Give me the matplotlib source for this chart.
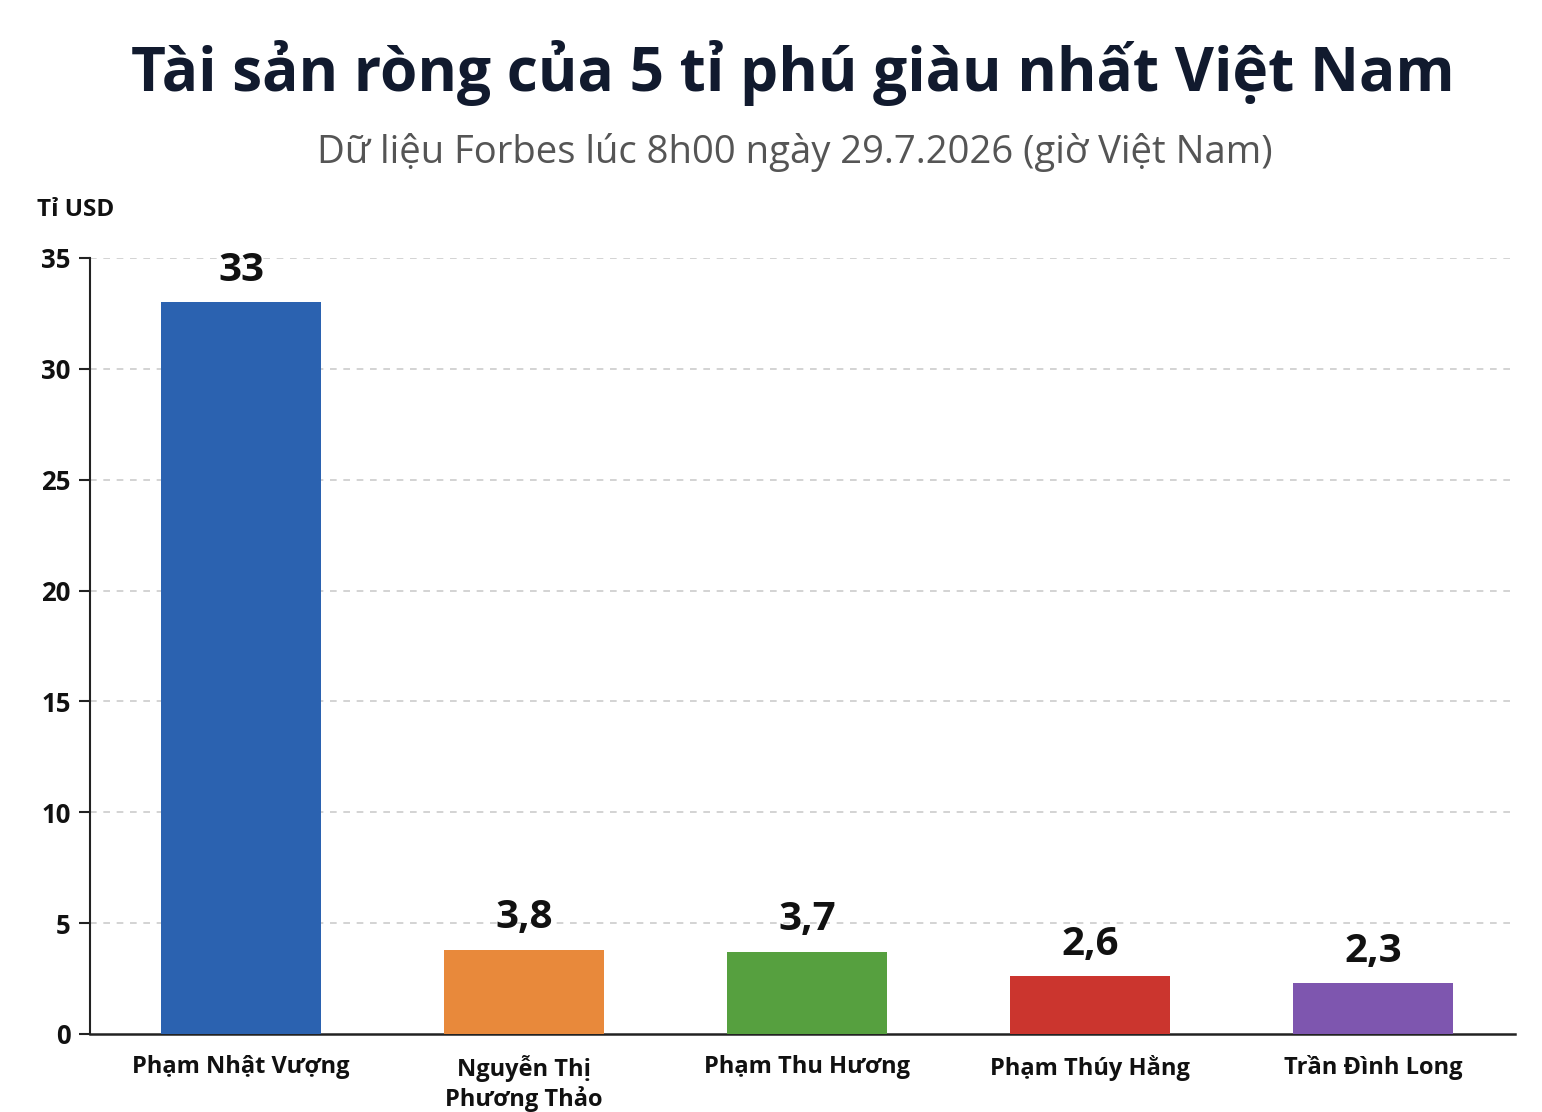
import matplotlib
matplotlib.use("Agg")
from matplotlib import pyplot as plt

# dữ liệu
names = ["Phạm Nhật Vượng", "Nguyễn Thị\nPhương Thảo", "Phạm Thu Hương",
         "Phạm Thúy Hằng", "Trần Đình Long"]
values = [33, 3.8, 3.7, 2.6, 2.3]
value_labels = ["33", "3,8", "3,7", "2,6", "2,3"]
colors = ["#2B62B0", "#E8893B", "#56A03F", "#CB352E", "#7E56AF"]
yticks = [0, 5, 10, 15, 20, 25, 30, 35]

plt.rcParams["font.family"] = ["Open Sans", "DejaVu Sans"]

fig = plt.figure(figsize=(15.42, 11.12), dpi=100)
ax = fig.add_axes([90 / 1542, 1 - 1034 / 1112, 1425 / 1542, 776 / 1112])

x = list(range(len(names)))
ax.bar(x, values, width=0.565, color=colors, zorder=3)

# nhãn giá trị trên cột
for xi, v, lab in zip(x, values, value_labels):
    ax.annotate(lab, (xi, v), xytext=(0, 9), textcoords="offset points",
                ha="center", va="bottom", fontsize=29, fontweight="bold",
                color="#111111")

ax.set_xlim(-0.534, 4.5)
ax.set_ylim(0, 35)
ax.set_yticks(yticks)
ax.set_yticklabels([str(t) for t in yticks], fontsize=18.5, fontweight="bold",
                   color="#111111")
ax.set_xticks(x)
ax.set_xticklabels(names, fontsize=17, fontweight="bold", color="#111111",
                   linespacing=1.2)
ax.tick_params(axis="x", length=0, pad=15)
ax.tick_params(axis="y", length=8, width=1.5, pad=6, color="#222222")

for t in yticks[1:]:
    ax.axhline(t, color="#cccccc", linestyle=(0, (4, 4)), linewidth=1.2,
               zorder=1)

for s in ["top", "right"]:
    ax.spines[s].set_visible(False)
ax.spines["left"].set_linewidth(1.5)
ax.spines["bottom"].set_linewidth(1.8)
ax.spines["left"].set_color("#222222")
ax.spines["bottom"].set_color("#222222")

fig.text(793 / 1542, 1 - 73 / 1112, "Tài sản ròng của 5 tỉ phú giàu nhất Việt Nam",
         ha="center", va="center", fontsize=43.5, fontweight="bold",
         color="#111a2e")
fig.text(795 / 1542, 1 - 152 / 1112, "Dữ liệu Forbes lúc 8h00 ngày 29.7.2026 (giờ Việt Nam)",
         ha="center", va="center", fontsize=27.5, color="#555555")
fig.text(37 / 1542, 1 - 210 / 1112, "Tỉ USD", ha="left", va="center",
         fontsize=17.5, fontweight="bold", color="#111111")

plt.savefig("out.png", dpi=100)
plt.close("all")
